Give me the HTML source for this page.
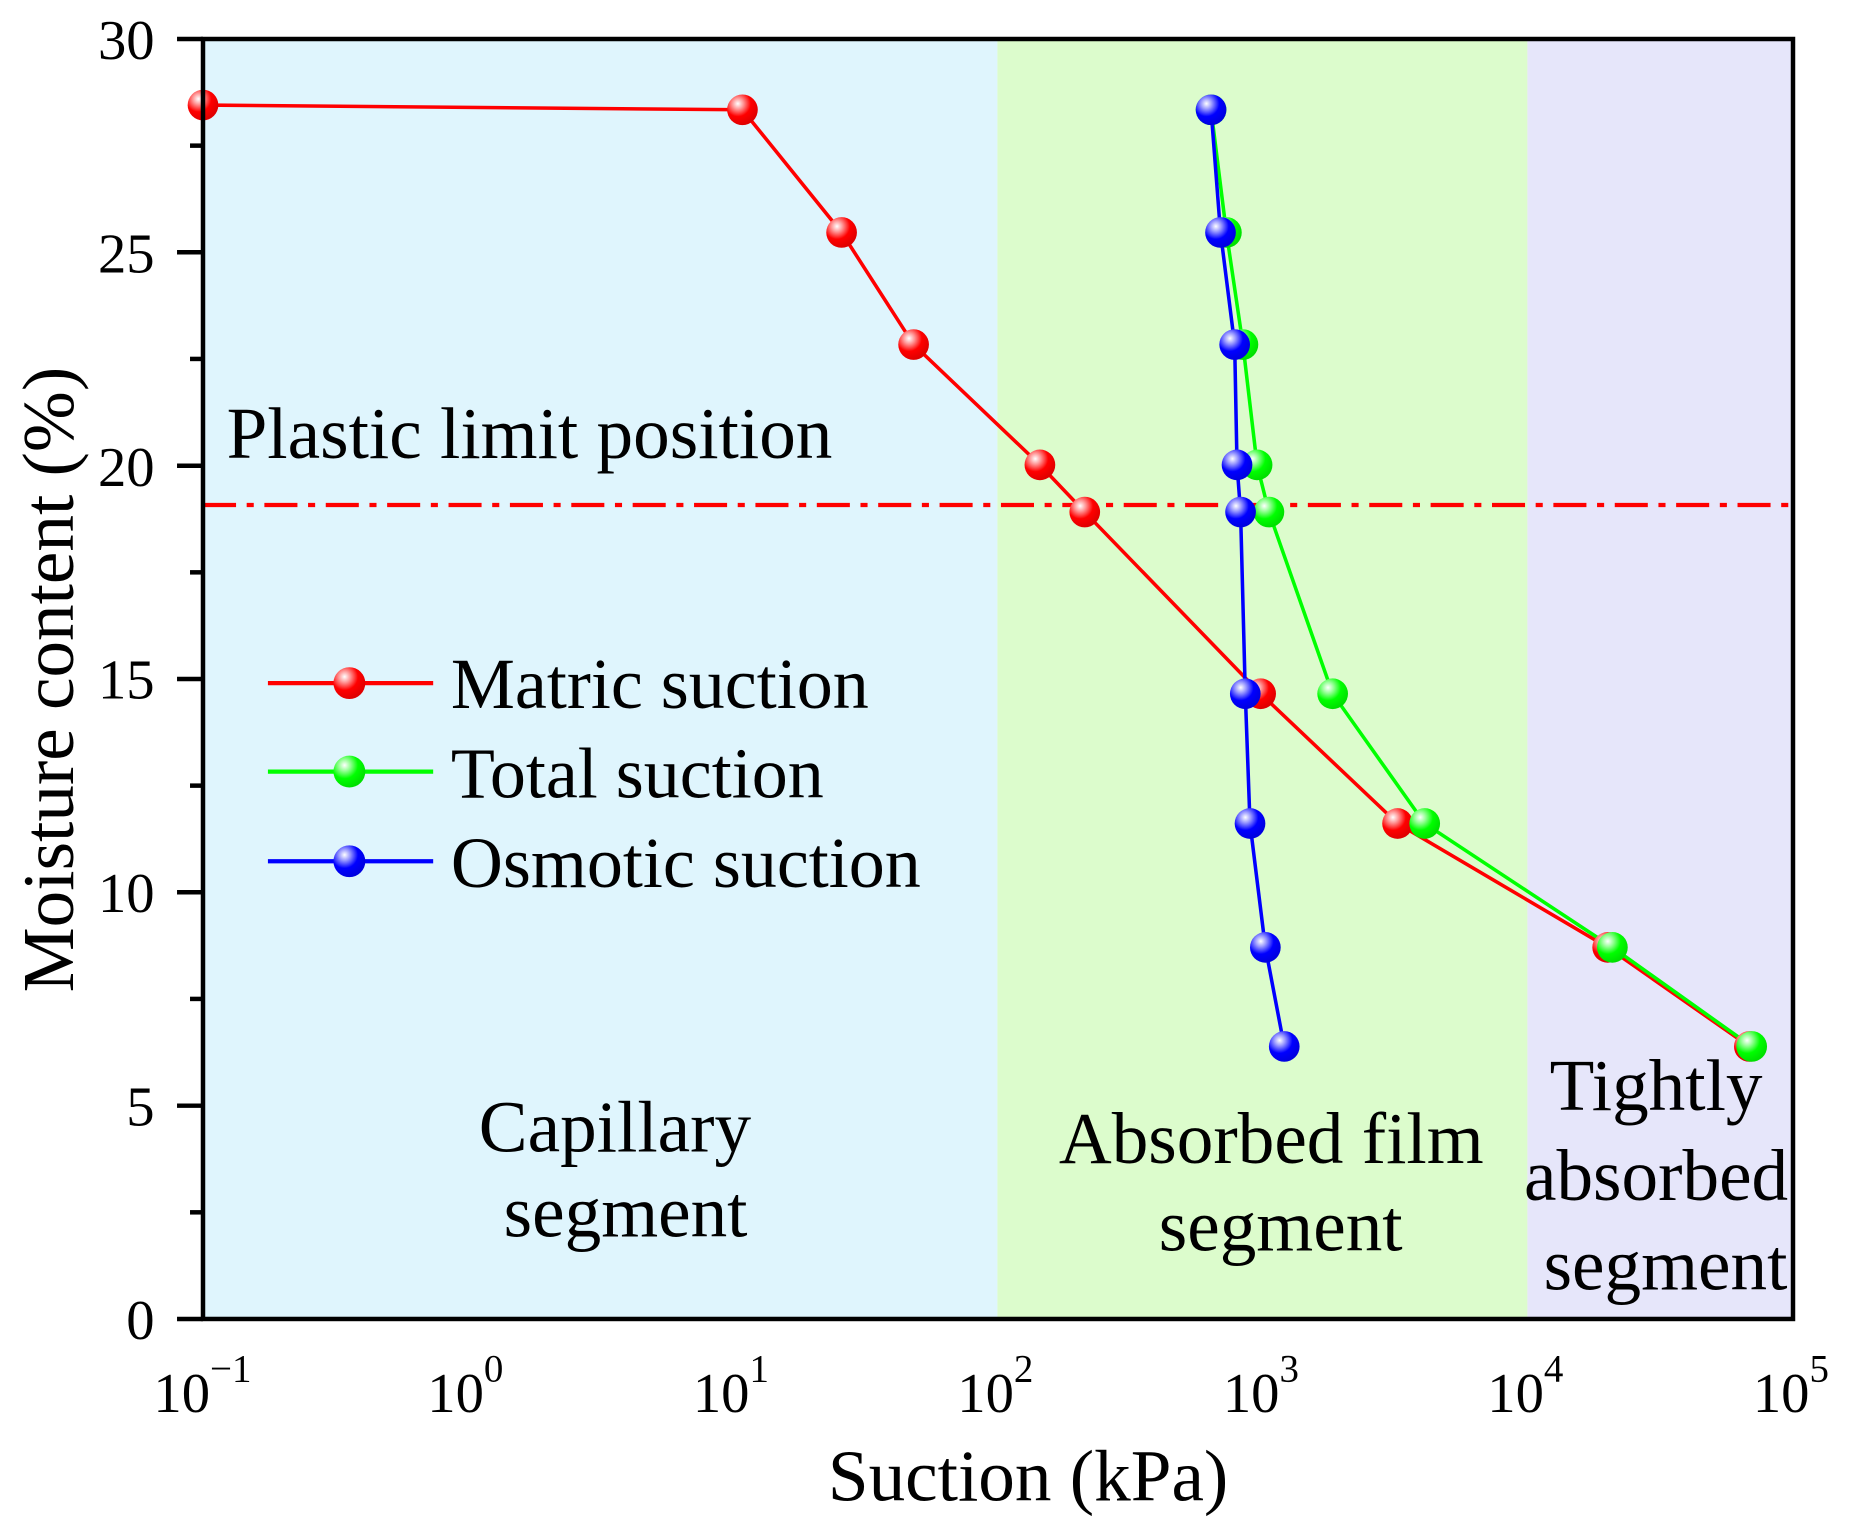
<!DOCTYPE html>
<html><head><meta charset="utf-8"><style>
html,body{margin:0;padding:0;background:#fff;width:1850px;height:1536px;overflow:hidden}
svg text{font-family:"Liberation Serif",serif;fill:#000}
</style></head><body>
<svg width="1850" height="1536" viewBox="0 0 1850 1536" xmlns="http://www.w3.org/2000/svg">
<defs>
<radialGradient id="gr" cx="0.35" cy="0.3" r="0.7"><stop offset="0" stop-color="#fff"/><stop offset="0.25" stop-color="#ff9a9a"/><stop offset="0.6" stop-color="#f00"/><stop offset="1" stop-color="#e00000"/></radialGradient>
<radialGradient id="gg" cx="0.35" cy="0.3" r="0.7"><stop offset="0" stop-color="#fff"/><stop offset="0.25" stop-color="#9aff9a"/><stop offset="0.6" stop-color="#0f0"/><stop offset="1" stop-color="#00e000"/></radialGradient>
<radialGradient id="gb" cx="0.35" cy="0.3" r="0.7"><stop offset="0" stop-color="#fff"/><stop offset="0.25" stop-color="#9a9aff"/><stop offset="0.6" stop-color="#00f"/><stop offset="1" stop-color="#0000e0"/></radialGradient>
</defs>
<g transform="translate(203,39) scale(1.1804,1.1797) translate(-173,-32)">
<rect x="173" y="32" width="673" height="1085" fill="#dff5fd"/>
<rect x="846" y="32" width="449" height="1085" fill="#dcfccc"/>
<rect x="1295" y="32" width="225" height="1085" fill="#e6e6fa"/>
<line x1="173" y1="427" x2="1520" y2="427" stroke="#f00" stroke-width="3.6" stroke-dasharray="28,9,6,9"/>
<polyline fill="none" stroke="#f00" stroke-width="3" points="173,88 630,92 714,196 775,291 882,393 920,433 1069,587 1185,697 1363,802 1483,886"/>
<polyline fill="none" stroke="#0f0" stroke-width="3" points="1027,92 1040,196 1054,291 1066,393 1076,433 1130,587 1208,697 1367,802 1485,886"/>
<polyline fill="none" stroke="#00f" stroke-width="3" points="1027,92 1035,196 1047,291 1049,393 1052,433 1056,587 1060,697 1073,802 1089,886"/>
<g fill="url(#gr)">
<circle cx="173" cy="88" r="13"/><circle cx="630" cy="92" r="13"/><circle cx="714" cy="196" r="13"/><circle cx="775" cy="291" r="13"/><circle cx="882" cy="393" r="13"/><circle cx="920" cy="433" r="13"/><circle cx="1069" cy="587" r="13"/><circle cx="1185" cy="697" r="13"/><circle cx="1363" cy="802" r="13"/><circle cx="1483" cy="886" r="13"/>
</g>
<g fill="url(#gg)">
<circle cx="1027" cy="92" r="13"/><circle cx="1040" cy="196" r="13"/><circle cx="1054" cy="291" r="13"/><circle cx="1066" cy="393" r="13"/><circle cx="1076" cy="433" r="13"/><circle cx="1130" cy="587" r="13"/><circle cx="1208" cy="697" r="13"/><circle cx="1367" cy="802" r="13"/><circle cx="1485" cy="886" r="13"/>
</g>
<g fill="url(#gb)">
<circle cx="1027" cy="92" r="13"/><circle cx="1035" cy="196" r="13"/><circle cx="1047" cy="291" r="13"/><circle cx="1049" cy="393" r="13"/><circle cx="1052" cy="433" r="13"/><circle cx="1056" cy="587" r="13"/><circle cx="1060" cy="697" r="13"/><circle cx="1073" cy="802" r="13"/><circle cx="1089" cy="886" r="13"/>
</g>
<rect x="173" y="32" width="1347" height="1085" fill="none" stroke="#000" stroke-width="3.8"/>
<g stroke="#000" stroke-width="3.8">
<line x1="151" y1="32" x2="173" y2="32"/><line x1="151" y1="212.8" x2="173" y2="212.8"/><line x1="151" y1="393.7" x2="173" y2="393.7"/><line x1="151" y1="574.5" x2="173" y2="574.5"/><line x1="151" y1="755.3" x2="173" y2="755.3"/><line x1="151" y1="936.2" x2="173" y2="936.2"/><line x1="151" y1="1117" x2="173" y2="1117"/>
<line x1="162" y1="122.4" x2="173" y2="122.4"/><line x1="162" y1="303.2" x2="173" y2="303.2"/><line x1="162" y1="484.1" x2="173" y2="484.1"/><line x1="162" y1="664.9" x2="173" y2="664.9"/><line x1="162" y1="845.7" x2="173" y2="845.7"/><line x1="162" y1="1026.6" x2="173" y2="1026.6"/>
</g>
<g id="xt" stroke="#000" stroke-width="3.8"></g>
<g font-size="48" text-anchor="end">
<text x="132" y="49">30</text><text x="132" y="230">25</text><text x="132" y="411">20</text><text x="132" y="591">15</text><text x="132" y="772">10</text><text x="132" y="953">5</text><text x="132" y="1134">0</text>
</g>
<g font-size="48">
<text x="131" y="1196">10<tspan dy="-26" font-size="33">−1</tspan></text>
<text x="363" y="1196">10<tspan dy="-26" font-size="33">0</tspan></text>
<text x="588" y="1196">10<tspan dy="-26" font-size="33">1</tspan></text>
<text x="812" y="1196">10<tspan dy="-26" font-size="33">2</tspan></text>
<text x="1037" y="1196">10<tspan dy="-26" font-size="33">3</tspan></text>
<text x="1261" y="1196">10<tspan dy="-26" font-size="33">4</tspan></text>
<text x="1486" y="1196">10<tspan dy="-26" font-size="33">5</tspan></text>
</g>
<text x="872" y="1271" font-size="62" text-anchor="middle">Suction (kPa)</text>
<text transform="translate(63,575) rotate(-90)" font-size="62" text-anchor="middle">Moisture content (%)</text>
<text x="193" y="387" font-size="62">Plastic limit position</text>
<line x1="228" y1="578" x2="368" y2="578" stroke="#f00" stroke-width="3.6"/><circle cx="297" cy="578" r="13.5" fill="url(#gr)"/>
<line x1="228" y1="653" x2="368" y2="653" stroke="#0f0" stroke-width="3.6"/><circle cx="297" cy="653" r="13.5" fill="url(#gg)"/>
<line x1="228" y1="729" x2="368" y2="729" stroke="#00f" stroke-width="3.6"/><circle cx="297" cy="729" r="13.5" fill="url(#gb)"/>
<g font-size="61">
<text x="383" y="599">Matric suction</text>
<text x="383" y="675">Total suction</text>
<text x="383" y="751">Osmotic suction</text>
</g>
<g font-size="62" text-anchor="middle">
<text x="522" y="975">Capillary</text><text x="531" y="1047">segment</text>
<text x="1078" y="985">Absorbed film</text><text x="1086" y="1059">segment</text>
<text x="1404" y="940">Tightly</text><text x="1404" y="1016">absorbed</text><text x="1412" y="1092">segment</text>
</g>
</g>
<script>
(function(){var g=document.getElementById('xt');var s='';
for(var d=-1;d<=4;d++){for(var m=1;m<=9;m++){var x=173+(d+1+Math.log10(m))*224.5;var l=(m==1)?16:8;s+='<line x1="'+x+'" y1="1117" x2="'+x+'" y2="'+(1117+l)+'"/>';}}
s+='<line x1="1520" y1="1117" x2="1520" y2="1133"/>';g.innerHTML=s;})();
</script>
</svg>
</body></html>
